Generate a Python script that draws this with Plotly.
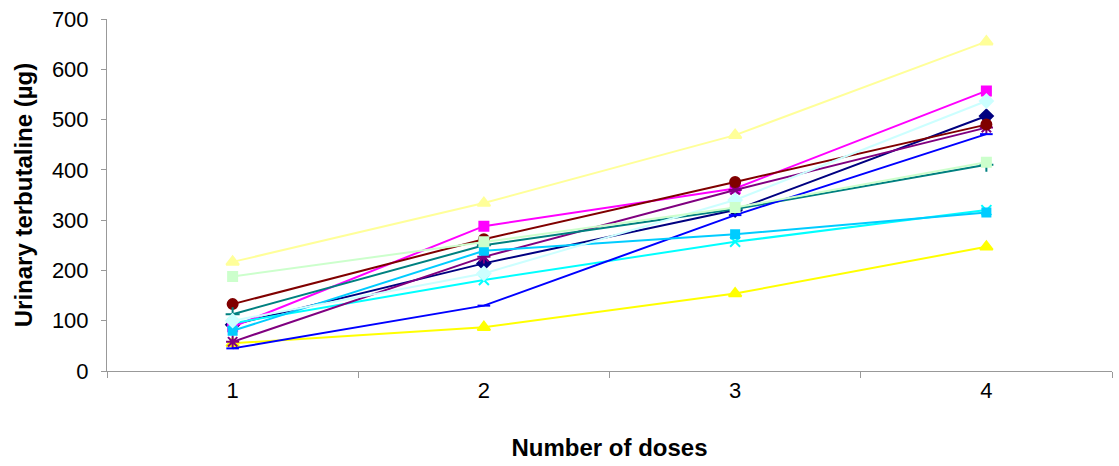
import plotly.graph_objects as go

doses = ["1", "2", "3", "4"]

# Urinary terbutaline (µg) per subject after each dose
s_navy = [92, 214, 320, 507]
s_magenta = [88, 288, 363, 557]
s_yellow = [55, 87, 154, 247]
s_cyan = [95, 181, 257, 320]
s_purple = [58, 227, 360, 484]
s_maroon = [133, 262, 376, 490]
s_teal = [113, 250, 322, 410]
s_blue = [45, 130, 310, 471]
s_skyblue = [80, 239, 272, 315]
s_turquoise = [100, 194, 340, 537]
s_lightgreen = [188, 257, 325, 415]
s_lightyellow = [217, 334, 469, 655]

series = [
    (s_navy, "#000080", "diamond", 10),
    (s_magenta, "#FF00FF", "square", 9),
    (s_yellow, "#FFFF00", "triangle-up", 11),
    (s_cyan, "#00FFFF", "x-thin-open", 10),
    (s_purple, "#800080", "asterisk-open", 11),
    (s_maroon, "#800000", "circle", 10),
    (s_teal, "#008080", "cross-thin-open", 10),
    (s_blue, "#0000FF", "line-ew-open", 9),
    (s_skyblue, "#00CCFF", "square", 8),
    (s_turquoise, "#CCFFFF", "diamond", 10),
    (s_lightgreen, "#CCFFCC", "square", 9),
    (s_lightyellow, "#FFFF99", "triangle-up", 11),
]

fig = go.Figure()
for values, color, symbol, size in series:
    fig.add_trace(go.Scatter(
        x=doses, y=values, mode="lines+markers",
        line=dict(color=color, width=2),
        marker=dict(symbol=symbol, size=size, color=color,
                    line=dict(color=color, width=2)),
        showlegend=False,
    ))

font_family = "Liberation Sans, Arial, sans-serif"
fig.update_layout(
    width=1119, height=466,
    margin=dict(l=107, r=7, t=19, b=95),
    paper_bgcolor="white", plot_bgcolor="white",
    font=dict(family=font_family, color="black"),
)
fig.update_xaxes(
    type="category", range=[-0.5, 3.5],
    tickson="boundaries", ticks="outside", ticklen=6, tickcolor="#999999",
    showline=True, linecolor="#999999", linewidth=1, showgrid=False,
    tickfont=dict(size=22),
    title=dict(text="<b>Number of doses</b>", font=dict(size=24), standoff=36),
)
fig.update_yaxes(
    range=[0, 700], dtick=100, ticks="outside", ticklen=5, tickcolor="#999999",
    showline=True, linecolor="#999999", linewidth=1, showgrid=False, zeroline=False,
    tickfont=dict(size=22), ticklabelstandoff=8,
    title=dict(text="<b>Urinary terbutaline (µg)</b>", font=dict(size=24), standoff=12),
)

fig.write_html("out.html")
